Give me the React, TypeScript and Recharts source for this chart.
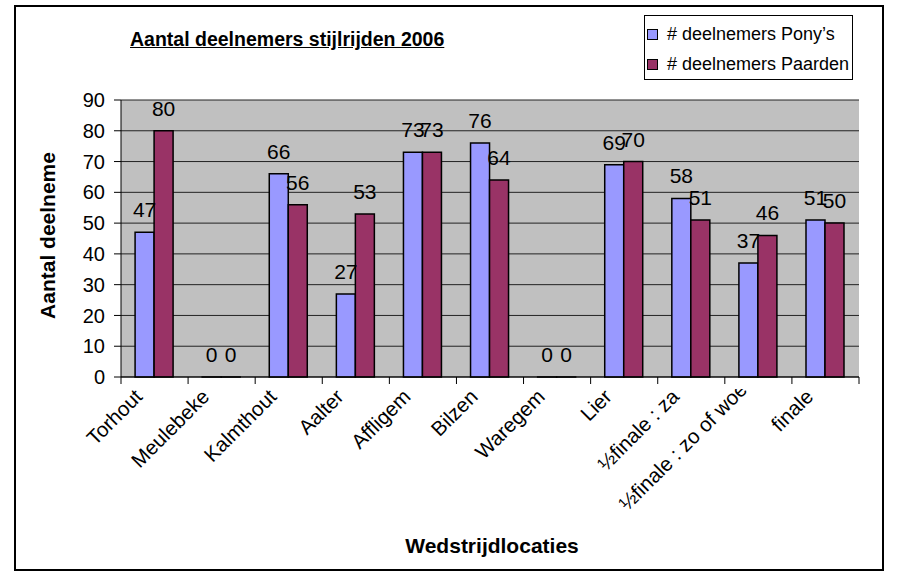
import React from "react";
import {
  Bar,
  BarChart,
  CartesianGrid,
  Label,
  LabelList,
  Legend,
  XAxis,
  YAxis,
} from "recharts";

const locations = [
  "Torhout",
  "Meulebeke",
  "Kalmthout",
  "Aalter",
  "Affligem",
  "Bilzen",
  "Waregem",
  "Lier",
  "½finale : za",
  "½finale : zo of woe",
  "finale",
];
const ponyCounts = [47, 0, 66, 27, 73, 76, 0, 69, 58, 37, 51];
const horseCounts = [80, 0, 56, 53, 73, 64, 0, 70, 51, 46, 50];
const yTicks = [0, 10, 20, 30, 40, 50, 60, 70, 80, 90];
const seriesOrder = ["pony", "paard"];

const rows = locations.map((name, i) => ({
  name,
  pony: ponyCounts[i],
  paard: horseCounts[i],
}));

const W = 898;
const H = 579;
const FONT = '"Liberation Sans", Arial, sans-serif';
const PLOT_LEFT = 121;
const PLOT_RIGHT = 39;
const BAND = (W - PLOT_LEFT - PLOT_RIGHT) / locations.length;

function LocationTick(props: any) {
  const { x, y, payload, index } = props;
  const left = x - BAND / 2;
  // the long semi-final label sits higher and gets cut off under the axis
  const clipped = index === 9;
  const ty = clipped ? y + 14 : y + 21;
  const tx = clipped ? x - 10 : x - 11;
  const label = (
    <text
      transform={`translate(${tx},${ty}) rotate(-45)`}
      textAnchor="end"
      fontSize={20.5}
      fontFamily={FONT}
      fill="#000"
    >
      {payload.value}
    </text>
  );
  return (
    <g>
      <line x1={left} y1={y} x2={left} y2={y + 7} stroke="#000" />
      {index === locations.length - 1 && (
        <line x1={x + BAND / 2} y1={y} x2={x + BAND / 2} y2={y + 7} stroke="#000" />
      )}
      {clipped ? (
        <g>
          <defs>
            <clipPath id="tickClip">
              <rect x={0} y={y + 12} width={W} height={200} />
            </clipPath>
          </defs>
          <g clipPath="url(#tickClip)">{label}</g>
        </g>
      ) : (
        label
      )}
    </g>
  );
}

function ValueLabel(props: any) {
  const { x, y, width, value } = props;
  if (x == null || y == null) return null;
  return (
    <text
      x={Number(x) + Number(width) / 2}
      y={Number(y) - 15}
      textAnchor="middle"
      fontSize={21}
      fontFamily={FONT}
      fill="#000"
    >
      {value}
    </text>
  );
}

function YTitle(props: any) {
  const vb = props.viewBox || { x: 0, y: 100, height: 277 };
  const cx = vb.x + 55;
  const cy = vb.y + vb.height / 2 - 3;
  return (
    <text
      x={cx}
      y={cy}
      transform={`rotate(-90, ${cx}, ${cy})`}
      textAnchor="middle"
      fontSize={21}
      fontWeight="bold"
      fontFamily={FONT}
      fill="#000"
    >
      Aantal deelneme
    </text>
  );
}

function XTitle(props: any) {
  const vb = props.viewBox || { x: 121, y: 377, width: 738 };
  return (
    <text
      x={vb.x + vb.width / 2 + 2}
      y={vb.y + 176}
      textAnchor="middle"
      fontSize={21}
      fontWeight="bold"
      fontFamily={FONT}
      fill="#000"
    >
      Wedstrijdlocaties
    </text>
  );
}

function LegendBox(props: any) {
  const items = [...(props.payload || [])].sort(
    (a: any, b: any) => seriesOrder.indexOf(a.dataKey) - seriesOrder.indexOf(b.dataKey)
  );
  return (
    <div
      style={{
        boxSizing: "border-box",
        width: 209,
        height: 65,
        border: "1px solid #000",
        background: "#fff",
        fontFamily: FONT,
        fontSize: 18,
        paddingTop: 3,
      }}
    >
      {items.map((it: any) => (
        <div
          key={it.value}
          style={{ display: "flex", alignItems: "center", height: 30, whiteSpace: "nowrap" }}
        >
          <span
            style={{
              display: "inline-block",
              boxSizing: "border-box",
              width: 11,
              height: 11,
              marginLeft: 2,
              marginRight: 9,
              background: it.color,
              border: "1.5px solid #000",
            }}
          />
          <span>{it.value}</span>
        </div>
      ))}
    </div>
  );
}

export default function App() {
  return (
    <div
      style={{
        position: "absolute",
        left: 0,
        top: 0,
        width: W,
        height: H,
        background: "#fff",
        fontFamily: FONT,
      }}
    >
      <div
        style={{
          position: "absolute",
          left: 14,
          top: 5,
          width: 870,
          height: 566,
          boxSizing: "border-box",
          border: "2px solid #000",
        }}
      />
      <div
        style={{
          position: "absolute",
          left: 130,
          top: 29,
          fontSize: 19.5,
          lineHeight: "20px",
          fontWeight: "bold",
          textDecoration: "underline",
          whiteSpace: "nowrap",
        }}
      >
        Aantal deelnemers stijlrijden 2006
      </div>
      <BarChart
        width={W}
        height={H}
        data={rows}
        margin={{ top: 100, right: PLOT_RIGHT, bottom: 0, left: 0 }}
        barCategoryGap="21%"
        barGap={0}
        style={{ position: "absolute", left: 0, top: 0 }}
      >
        <CartesianGrid vertical={false} fill="#C0C0C0" stroke="#222" fillOpacity={1} />
        <XAxis
          dataKey="name"
          interval={0}
          height={202}
          tickLine={false}
          tickSize={0}
          tickMargin={0}
          axisLine={{ stroke: "#000" }}
          tick={<LocationTick />}
        >
          <Label content={<XTitle />} />
        </XAxis>
        <YAxis
          domain={[0, 90]}
          ticks={yTicks}
          interval={0}
          width={PLOT_LEFT}
          tickSize={7}
          tickMargin={9}
          axisLine={{ stroke: "#000" }}
          tickLine={{ stroke: "#000" }}
          tick={{ fontSize: 20, fill: "#000", fontFamily: FONT }}
        >
          <Label content={<YTitle />} />
        </YAxis>
        <Legend
          layout="vertical"
          align="center"
          verticalAlign="middle"
          content={<LegendBox />}
          wrapperStyle={{ position: "absolute", left: 644, top: 15, width: 209, height: 65 }}
        />
        <Bar
          dataKey="pony"
          name="# deelnemers Pony’s"
          fill="#9999FF"
          stroke="#000"
          strokeWidth={1.5}
          minPointSize={0.01}
          isAnimationActive={false}
        >
          <LabelList dataKey="pony" content={<ValueLabel />} />
        </Bar>
        <Bar
          dataKey="paard"
          name="# deelnemers Paarden"
          fill="#993366"
          stroke="#000"
          strokeWidth={1.5}
          minPointSize={0.01}
          isAnimationActive={false}
        >
          <LabelList dataKey="paard" content={<ValueLabel />} />
        </Bar>
      </BarChart>
    </div>
  );
}
